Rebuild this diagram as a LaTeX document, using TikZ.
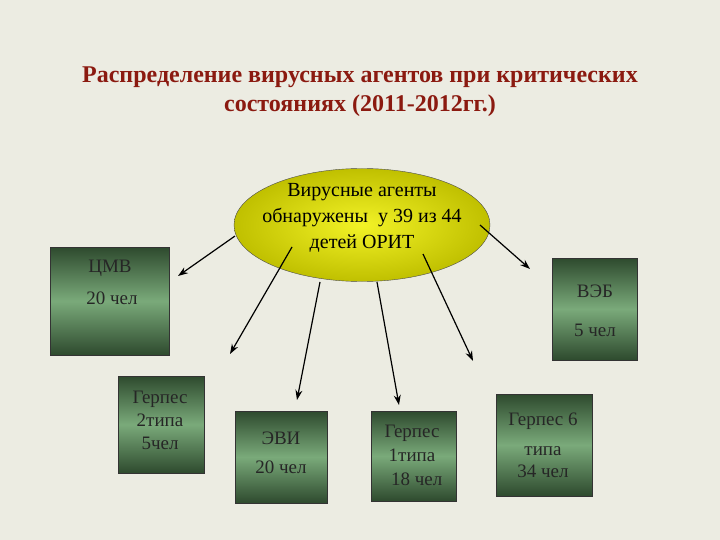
\documentclass[tikz,border=0pt]{standalone}
\usepackage{fontspec}
\setmainfont{Liberation Serif}
\usetikzlibrary{arrows.meta,shapes.geometric}
\definecolor{bg}{HTML}{ECECE2}
\definecolor{ttl}{HTML}{8B1A10}
\definecolor{dg}{HTML}{2E4A2E}
\definecolor{lg}{HTML}{7AAA7A}
\definecolor{yel}{HTML}{F0F000}
\begin{document}
\begin{tikzpicture}[x=1pt,y=-1pt,
  gbox/.style={draw=black!80,line width=0.8pt,top color=dg,bottom color=dg,middle color=lg,inner sep=0},
  btxt/.style={font=\fontsize{19}{22}\selectfont,text=black!85,align=center},
  arr/.style={-{Stealth[length=10pt,width=7pt]},line width=1.2pt}]
\path[fill=bg] (0,0) rectangle (720,540);
\useasboundingbox (0,0) rectangle (720,540);
\node[font=\bfseries\fontsize{24}{29}\selectfont,text=ttl,align=center] (title) at (360,92)
 {Распределение вирусных агентов при критических\\состояниях (2011-2012гг.)};
\node[ellipse,draw=black!70,inner sep=0,minimum width=256,minimum height=113,
  inner color=yel!85!white,outer color=yel!80!black] (ell) at (362,225) {};
\node[font=\fontsize{20}{26}\selectfont,align=center] (etxt) at (362,218) {Вирусные агенты\\обнаружены\ \ у 39 из 44\\детей ОРИТ};
\node[gbox,minimum width=119,minimum height=108] (cmv) at (109.5,301) {};
\node[btxt] at (110,268) {ЦМВ};
\node[btxt] at (112,298) {20 чел};
\node[gbox,minimum width=85,minimum height=102] (veb) at (594.5,309) {};
\node[btxt] at (595,291) {ВЭБ};
\node[btxt] at (595,330) {5 чел};
\node[gbox,minimum width=86,minimum height=97] (h2) at (161,424.5) {};
\node[btxt,font=\fontsize{19}{23}\selectfont] at (160,420) {Герпес\\2типа\\5чел};
\node[gbox,minimum width=92,minimum height=92] (evi) at (281,457) {};
\node[btxt] at (281,438) {ЭВИ};
\node[btxt] at (281,467) {20 чел};
\node[gbox,minimum width=85,minimum height=90] (h1) at (413.5,456) {};
\node[btxt,font=\fontsize{19}{24}\selectfont] at (412,455) {Герпес\\1типа\\\ \ 18 чел};
\node[gbox,minimum width=96,minimum height=102] (h6) at (544,445) {};
\node[btxt] at (543,421) {Герпес 6};
\node[btxt,font=\fontsize{19}{22}\selectfont] at (543,462) {типа\\34 чел};
\coordinate (s1) at (235,236); \coordinate (e1) at (178,276);
\coordinate (s2) at (292,247); \coordinate (e2) at (230,354);
\coordinate (s3) at (320,282); \coordinate (e3) at (297,400);
\coordinate (s4) at (377,282); \coordinate (e4) at (399,405);
\coordinate (s5) at (423,254); \coordinate (e5) at (473,361);
\coordinate (s6) at (480,225); \coordinate (e6) at (530,269);
\foreach \i in {1,...,6} \draw[arr] (s\i) -- (e\i);
\end{tikzpicture}
\end{document}
